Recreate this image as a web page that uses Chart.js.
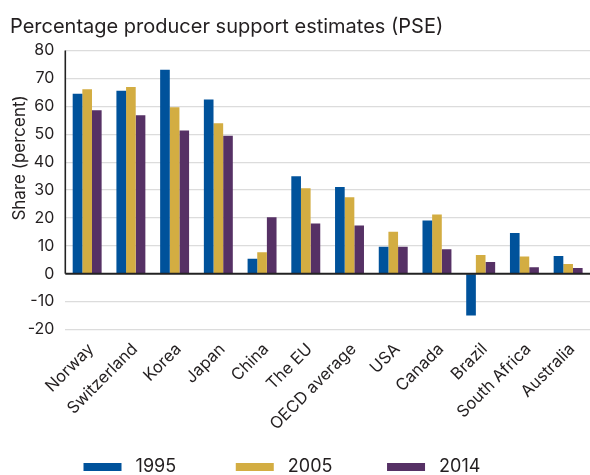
<!DOCTYPE html>
<html>
<head>
<meta charset="utf-8">
<script src="https://cdn.jsdelivr.net/npm/chart.js@4/dist/chart.umd.min.js"></script>
<style>
  html, body { margin: 0; padding: 0; background: #fff; }
  canvas { display: block; }
</style>
</head>
<body>
<canvas id="pse" width="590" height="475"></canvas>
<script>
// Producer support estimates, share of gross farm receipts (percent)
const countries = ['Norway', 'Switzerland', 'Korea', 'Japan', 'China', 'The EU',
  'OECD average', 'USA', 'Canada', 'Brazil', 'South Africa', 'Australia'];
const years = ['1995', '2005', '2014'];
const pse1995 = [64.5, 65.6, 73.1, 62.4, 5.4, 34.9, 31.1, 9.7, 19.1, -15.0, 14.6, 6.3];
const pse2005 = [66.1, 66.9, 59.7, 53.9, 7.7, 30.6, 27.4, 15.0, 21.2, 6.7, 6.2, 3.5];
const pse2014 = [58.6, 56.8, 51.3, 49.4, 20.2, 18.0, 17.3, 9.7, 8.8, 4.2, 2.3, 2.0];
const yMin = -20, yMax = 80, yStep = 10;

const FONT = "Inter, 'Liberation Sans', Arial, sans-serif";
const INK = '#231f20';
const colors = ['#00529b', '#d3ad42', '#563165'];

// Legend layout: box width, gap after text, first box position
const LEGEND_FONT = 18;
const LEGEND_BOX = 38;
const LEGEND_PAD = 9;
const LEGEND_PITCH = 151;
const LEGEND_X = 83.5;

// Pad each legend label with spaces so the entries sit on an even pitch
const measureCtx = document.createElement('canvas').getContext('2d');
measureCtx.font = `${LEGEND_FONT}px ${FONT}`;
function padLabel(text) {
  const target = LEGEND_PITCH - LEGEND_BOX - LEGEND_FONT / 2 - LEGEND_PAD;
  let s = ' ' + text;
  const sp = measureCtx.measureText(' ').width;
  while (measureCtx.measureText(s).width + sp / 2 < target) s += ' ';
  return s;
}

// Dark axis line (top tick down to zero) and the zero baseline drawn over the bars
const axisLines = {
  id: 'axisLines',
  afterDatasetsDraw(chart) {
    const { ctx, chartArea, scales: { y } } = chart;
    const y0 = y.getPixelForValue(0);
    ctx.save();
    ctx.strokeStyle = '#222';
    ctx.lineWidth = 2;
    ctx.beginPath();
    ctx.moveTo(chartArea.left, y0);
    ctx.lineTo(chartArea.right, y0);
    ctx.stroke();
    ctx.lineWidth = 1.6;
    ctx.beginPath();
    ctx.moveTo(chartArea.left, y.getPixelForValue(yMax));
    ctx.lineTo(chartArea.left, y0);
    ctx.stroke();
    ctx.restore();
  }
};

// Vertical axis title, placed beside the upper part of the axis
const yTitle = {
  id: 'yTitle',
  afterDraw(chart) {
    const { ctx, scales: { y } } = chart;
    ctx.save();
    ctx.translate(25, y.getPixelForValue(41.5));
    ctx.rotate(-Math.PI / 2);
    ctx.font = `17px ${FONT}`;
    ctx.fillStyle = INK;
    ctx.textAlign = 'center';
    ctx.textBaseline = 'alphabetic';
    ctx.fillText('Share (percent)', 0, 0);
    ctx.restore();
  }
};

// Start the legend row at a fixed x and drop it a little lower
const legendShift = {
  id: 'legendShift',
  afterLayout(chart) {
    const lg = chart.legend;
    if (!lg) return;
    const w = lg.right - lg.left;
    lg.left = LEGEND_X - LEGEND_PAD;
    lg.right = lg.left + w;
    lg.top += 11;
    lg.bottom += 11;
  }
};

new Chart(document.getElementById('pse'), {
  type: 'bar',
  data: {
    labels: countries,
    datasets: [
      { label: years[0], data: pse1995, backgroundColor: colors[0] },
      { label: years[1], data: pse2005, backgroundColor: colors[1] },
      { label: years[2], data: pse2014, backgroundColor: colors[2] }
    ]
  },
  options: {
    responsive: false,
    animation: false,
    layout: { padding: { left: 10, right: 0, top: 6, bottom: 0 } },
    datasets: { bar: { categoryPercentage: 0.662, barPercentage: 1, borderWidth: 0 } },
    scales: {
      x: {
        grid: { display: false },
        border: { display: false },
        ticks: {
          font: { family: FONT, size: 16.5 },
          color: INK,
          minRotation: 45,
          maxRotation: 45,
          padding: 2,
          labelOffset: 4,
          autoSkip: false
        },
        afterFit(s) { s.height = 108.5; }
      },
      y: {
        min: yMin,
        max: yMax,
        border: { display: false },
        grid: {
          drawTicks: false,
          lineWidth: 1.2,
          color: (c) => (c.tick && c.tick.value === 0 ? 'rgba(0,0,0,0)' : '#dcdcdc')
        },
        ticks: {
          stepSize: yStep,
          font: { family: FONT, size: 16 },
          color: INK,
          padding: 11
        },
        afterFit(s) { s.width = 55.3; }
      }
    },
    plugins: {
      title: {
        display: true,
        text: 'Percentage producer support estimates (PSE)',
        align: 'start',
        color: INK,
        font: { family: FONT, size: 20, weight: 'normal' },
        padding: { top: 8.5, bottom: 12 }
      },
      legend: {
        position: 'bottom',
        align: 'start',
        labels: {
          boxWidth: LEGEND_BOX,
          boxHeight: 8,
          padding: LEGEND_PAD,
          color: INK,
          font: { family: FONT, size: LEGEND_FONT },
          generateLabels(chart) {
            return Chart.defaults.plugins.legend.labels.generateLabels(chart)
              .map((l) => Object.assign(l, { text: padLabel(l.text) }));
          }
        }
      },
      tooltip: { enabled: false }
    }
  },
  plugins: [axisLines, yTitle, legendShift]
});
</script>
</body>
</html>
